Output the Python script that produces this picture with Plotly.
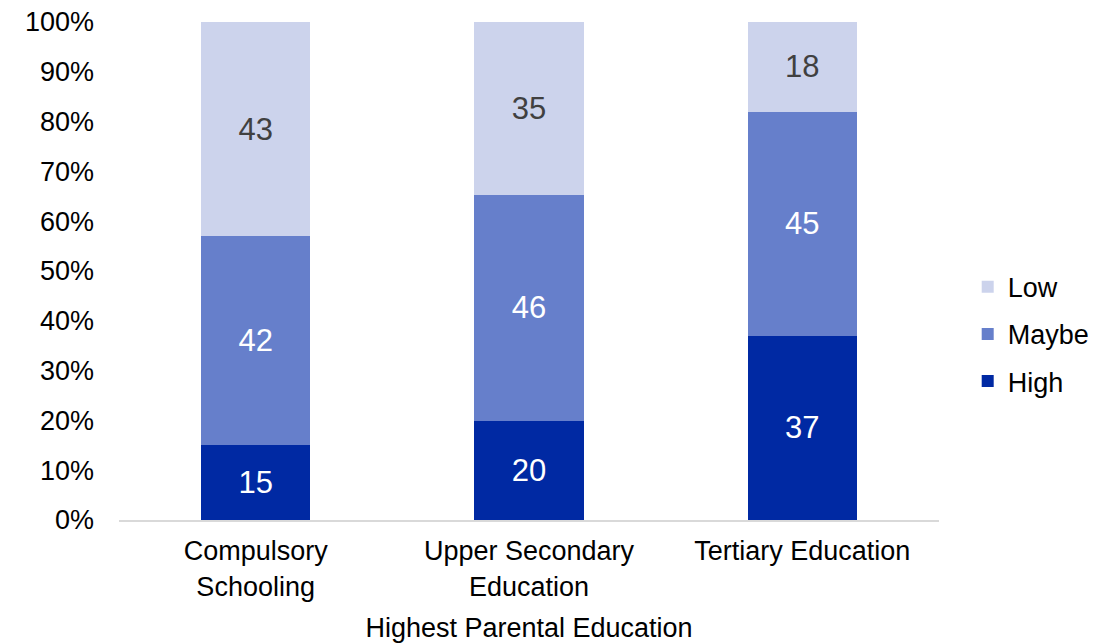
import plotly.graph_objects as go

categories = ["Compulsory<br>Schooling", "Upper Secondary<br>Education", "Tertiary Education"]
high = [15, 20, 37]
maybe = [42, 46, 45]
low = [43, 35, 18]

series = [
    ("High", high, "#0029A3", "white", 3),
    ("Maybe", maybe, "#667FCB", "white", 2),
    ("Low", low, "#CCD3EC", "#404040", 1),
]

FONT = "Liberation Sans, Arial"

fig = go.Figure()
for name, vals, color, tcolor, rank in series:
    fig.add_trace(go.Bar(
        x=categories, y=vals, name=name,
        marker=dict(color=color, line=dict(width=0)),
        text=[str(v) for v in vals], textposition="inside",
        insidetextanchor="middle",
        textfont=dict(size=31, color=tcolor, family=FONT),
        legendgroup=name, legendrank=rank,
    ))

fig.update_layout(
    barmode="stack", barnorm="percent", bargap=0.6,
    width=1107, height=643,
    margin=dict(l=111, r=176, t=14, b=131),
    paper_bgcolor="white", plot_bgcolor="white",
    font=dict(family=FONT, size=27, color="black"),
    uniformtext=dict(minsize=31, mode="show"),
    legend=dict(traceorder="grouped", tracegroupgap=9,
                x=1.035, xanchor="left", y=0.373, yanchor="middle",
                font=dict(size=27), itemwidth=30),
    xaxis=dict(title=dict(text="Highest Parental Education", standoff=18, font=dict(size=27)),
               showline=True, linecolor="#D9D9D9", linewidth=2, ticks="",
               tickfont=dict(size=27), ticklabelstandoff=6, automargin=False),
    yaxis=dict(range=[0, 100], dtick=10, ticksuffix="%", showgrid=False,
               zeroline=False, showline=False, tickfont=dict(size=27),
               ticklabelstandoff=24, automargin=False, ticklabeloverflow="allow"),
)

fig.write_html("out.html")
